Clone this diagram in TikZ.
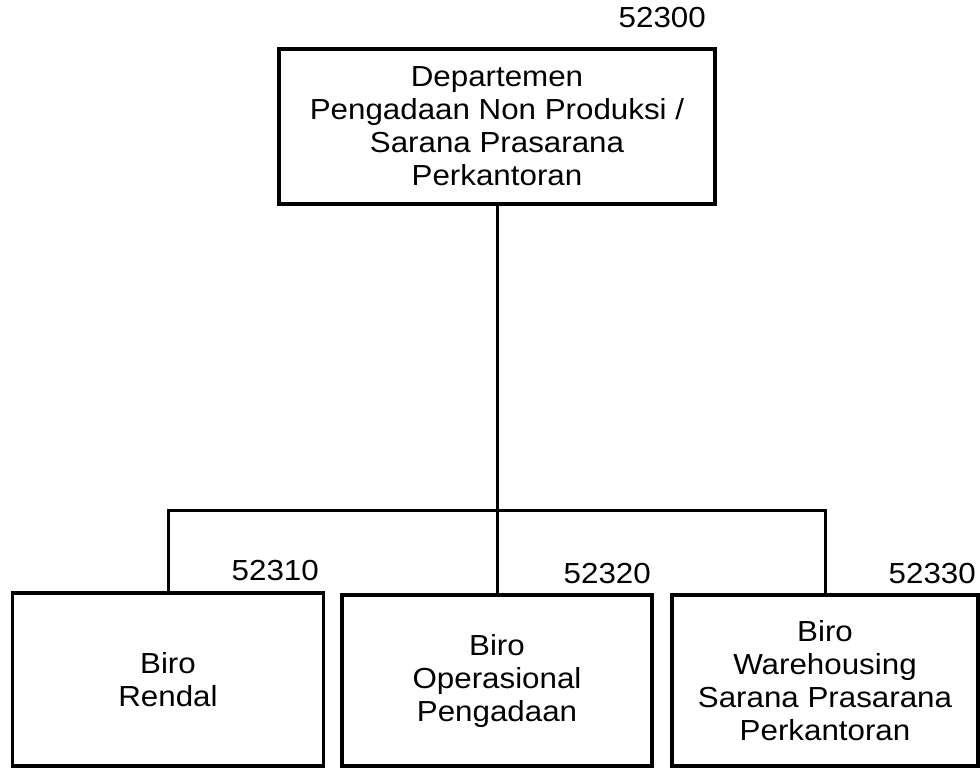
\documentclass[tikz,border=0pt]{standalone}
\usepackage{fontspec}
\setmainfont{Liberation Sans}[FakeStretch=1.08]
\begin{document}
\begin{tikzpicture}[x=1pt,y=-1pt,
  orgbox/.style={draw=black,line width=3.2pt,fill=white,align=center,inner sep=0pt,
    font=\fontsize{29}{33}\selectfont},
  code/.style={anchor=base east,inner sep=0pt,font=\fontsize{29}{33}\selectfont},
  link/.style={line width=3pt}]
\useasboundingbox (0,0) rectangle (980,768);
\node[orgbox,minimum width=436pt,minimum height=155pt] (top) at (497,126.5)
  {Departemen\\Pengadaan Non Produksi /\\Sarana Prasarana\\Perkantoran};
\node[code] (c0) at (706,28) {52300};
\node[orgbox,minimum width=311pt,minimum height=173pt] (b1) at (168,679.5) {Biro\\Rendal};
\node[orgbox,minimum width=310pt,minimum height=171pt] (b2) at (497,680.5) {Biro\\Operasional\\Pengadaan};
\node[orgbox,minimum width=306pt,minimum height=171pt] (b3) at (825,680.5)
  {Biro\\Warehousing\\Sarana Prasarana\\Perkantoran};
\node[code] (c1) at (319,580) {52310};
\node[code] (c2) at (651,583) {52320};
\node[code] (c3) at (976,583) {52330};
\coordinate (bus) at (497,510);
\draw[link] (top.south) -- (b2.north);
\draw[link] (b1.north) -- (b1.north |- bus) -- (b3.north |- bus) -- (b3.north);
\end{tikzpicture}
\end{document}
